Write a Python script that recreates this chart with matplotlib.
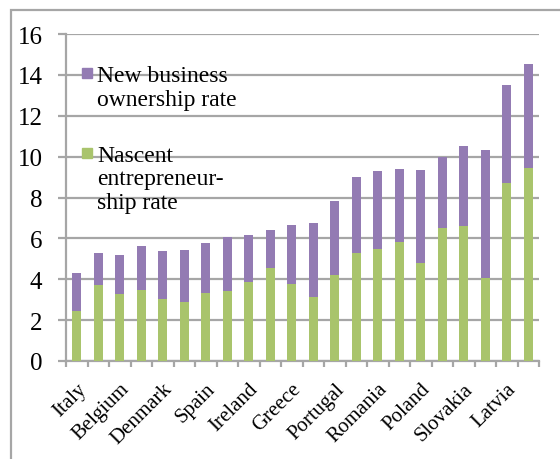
import matplotlib.pyplot as plt
import numpy as np
from matplotlib.patches import Rectangle

# country labels (only every other bar is labelled in the source)
countries = ["Italy", "", "Belgium", "", "Denmark", "", "Spain", "", "Ireland", "",
             "Greece", "", "Portugal", "", "Romania", "", "Poland", "", "Slovakia", "",
             "Latvia", ""]
nascent = [2.45, 3.72, 3.28, 3.46, 3.04, 2.91, 3.31, 3.44, 3.87, 4.57, 3.79,
           3.12, 4.23, 5.29, 5.47, 5.80, 4.78, 6.53, 6.60, 4.07, 8.69, 9.42]
new_business = [1.88, 1.54, 1.93, 2.16, 2.33, 2.53, 2.47, 2.65, 2.29, 1.85, 2.84,
                3.64, 3.62, 3.72, 3.82, 3.59, 4.58, 3.43, 3.91, 6.23, 4.81, 5.11]
yticks = [0, 2, 4, 6, 8, 10, 12, 14, 16]

purple = "#937bb3"
green = "#a9c46c"
gray = "#a6a6a6"

plt.rcParams["font.family"] = ["Liberation Serif", "DejaVu Serif"]
plt.rcParams["ytick.labelsize"] = 18
plt.rcParams["xtick.labelsize"] = 15

fig = plt.figure(figsize=(5.6, 4.6), dpi=100)
ax = fig.add_axes([66 / 560, 1 - 362 / 460, 473 / 560, 327 / 460])

x = np.arange(len(countries))
ax.bar(x, nascent, width=0.4, color=green, zorder=3)
ax.bar(x, new_business, width=0.4, bottom=nascent, color=purple, zorder=3)

ax.set_xlim(-0.5, len(countries) - 0.5)
ax.set_ylim(0, 16)
ax.set_yticks(yticks)
ax.yaxis.grid(True, color=gray, linewidth=1.6, zorder=0)
ax.set_axisbelow(True)

for s in ["top", "right"]:
    ax.spines[s].set_visible(False)
for s in ["left", "bottom"]:
    ax.spines[s].set_color(gray)
    ax.spines[s].set_linewidth(1.6)

ax.tick_params(axis="y", length=6, width=1.6, color=gray, pad=11, labelsize=18)

# ticks between categories, labels on bar centres
ax.set_xticks(np.arange(-0.5, len(countries), 1.0))
ax.set_xticklabels([])
ax.set_xticks(x, minor=True)
ax.set_xticklabels(countries, minor=True, rotation=45, ha="right",
                   rotation_mode="anchor")
ax.tick_params(axis="x", which="major", length=4, width=1.6, color=gray)
ax.tick_params(axis="x", which="minor", length=0, pad=13, labelsize=15)

# legend drawn by hand, squares aligned with first text line
for ypos, col, txt in [(0.865, purple, "New business\nownership rate"),
                       (0.621, green, "Nascent\nentrepreneur-\nship rate")]:
    ax.add_patch(Rectangle((16 / 473, ypos), 10 / 473, 10 / 327, color=col,
                           transform=ax.transAxes, zorder=4, clip_on=False))
    ax.text(31 / 473, ypos + 13 / 327, txt, transform=ax.transAxes, va="top",
            ha="left", fontsize=17, linespacing=1.15, zorder=4)

# outer chart border
fig.add_artist(Rectangle((11 / 560, -0.1), 1.2, 1 - 11 / 460 + 0.1, fill=False,
                         edgecolor=gray, linewidth=1.6, transform=fig.transFigure))

fig.savefig("out.png", dpi=100)
